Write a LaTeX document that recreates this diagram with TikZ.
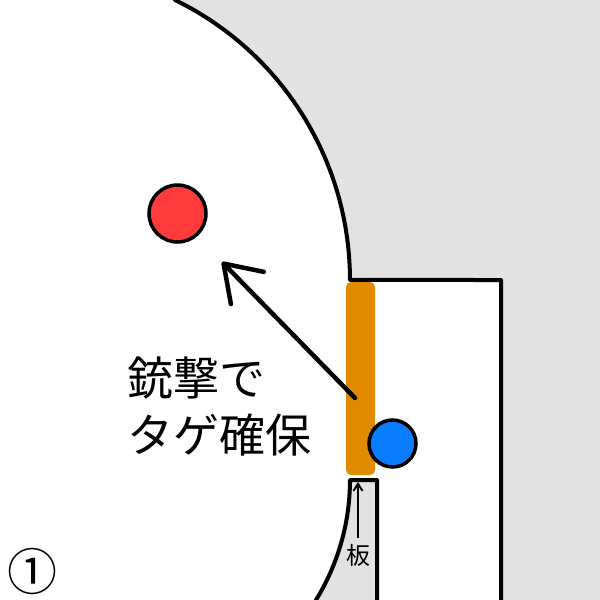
\documentclass[tikz,border=0pt]{standalone}
\usepackage{fontspec}
\newfontfamily\jp{Noto Sans CJK JP}
\usetikzlibrary{arrows.meta}
\definecolor{bggray}{HTML}{E2E2E2}
\definecolor{barorange}{HTML}{E08A00}
\definecolor{ballblue}{HTML}{0A7CFF}
\definecolor{ballred}{HTML}{FF3B3B}
\tikzset{
  wall/.style={line width=4pt, line join=round, line cap=round},
  ball/.style={circle, draw=black, line width=3.5pt, inner sep=0pt},
  bigarrow/.style={line width=4.5pt, line cap=round, -{Straight Barb[length=34pt,width=46pt,line width=4.5pt,round]}},
  smallarrow/.style={line width=2pt, -{Straight Barb[length=7pt,width=9pt,line width=2pt]}},
}
\begin{document}
\begin{tikzpicture}[x=1pt,y=-1pt]
\useasboundingbox (0,0) rectangle (600,600);
\fill[bggray] (0,0) rectangle (600,600);
% white floor region
\fill[white] (0,0) -- (175,0) arc[start angle=-64, end angle=0, radius=311.5]
  -- (501,280) -- (501,600) -- (377,600) -- (377,480) -- (350,480)
  arc[start angle=0, end angle=31.6, radius=229] -- (0,600) -- cycle;
% walls
\draw[wall] (175,0) arc[start angle=-64, end angle=0, radius=311.5] -- (501,280) -- (501,604);
\draw[wall] (316,604) -- (316,600) arc[start angle=31.6, end angle=0, radius=229] -- (377,480) -- (377,604);
% board
\node[fill=barorange, rounded corners=5pt, minimum width=29pt, minimum height=193pt, inner sep=0pt] (board) at (360.5,378.5) {};
% balls
\node[ball, fill=ballblue, minimum size=47pt] (blue) at (392.5,443.5) {};
\node[ball, fill=ballred, minimum size=57pt] (red) at (177.5,213.5) {};
% arrow
\coordinate (atail) at (355,398);
\coordinate (ahead) at (222,262);
\draw[bigarrow] (atail) -- (ahead);
% labels
\node[anchor=base west, inner sep=0pt, font=\jp\fontsize{46}{46}\selectfont] (l1) at (127,395) {銃撃で};
\node[anchor=base west, inner sep=0pt, font=\jp\fontsize{46}{46}\selectfont] (l2) at (127,452) {タゲ確保};
\coordinate (stail) at (358,538);
\coordinate (shead) at (358,482);
\draw[smallarrow] (stail) -- (shead);
\node[inner sep=0pt, font=\jp\fontsize{24}{24}\selectfont] (ita) at (358,555) {板};
\node[inner sep=0pt, font=\jp\fontsize{50}{50}\selectfont] (num) at (32,571) {①};
\end{tikzpicture}
\end{document}
